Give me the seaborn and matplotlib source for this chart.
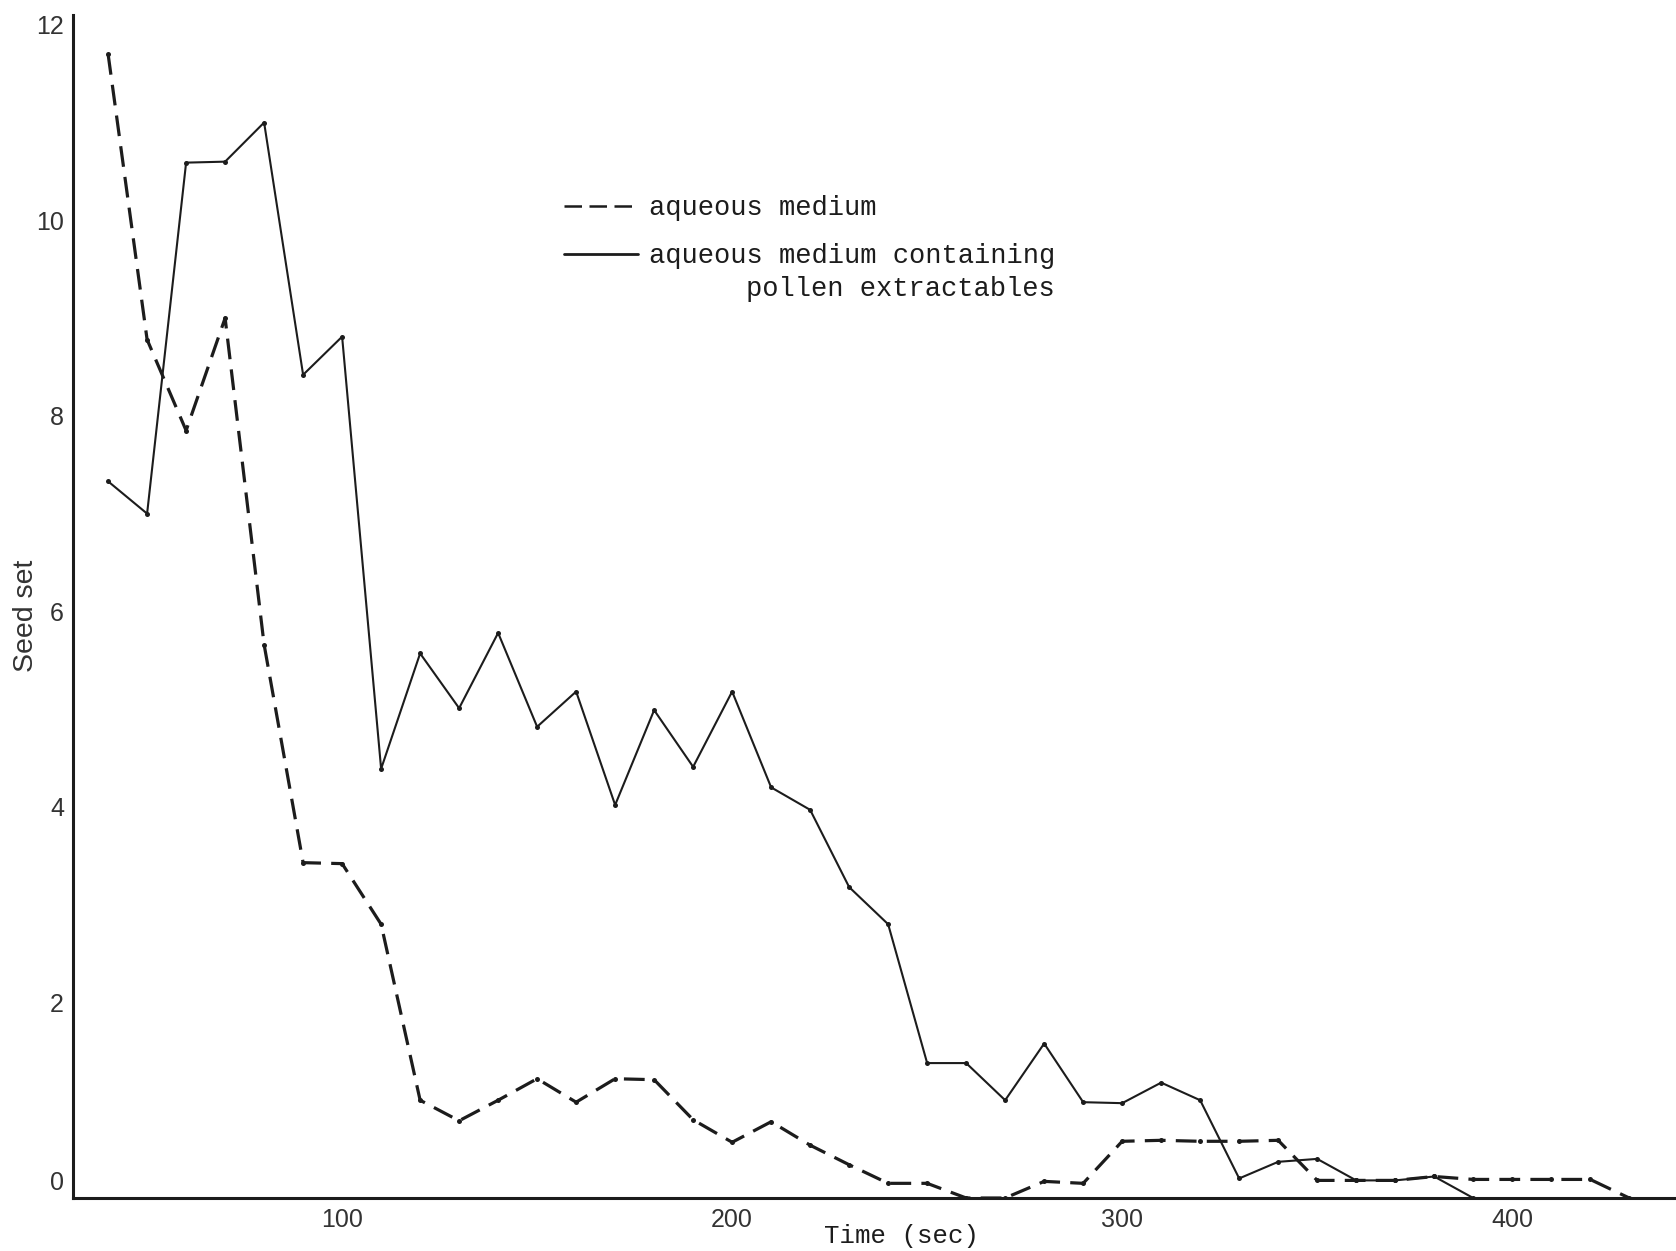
import numpy as np
import pandas as pd
import matplotlib
matplotlib.use("Agg")
import matplotlib.pyplot as plt
import seaborn as sns
from matplotlib.lines import Line2D
from matplotlib.transforms import ScaledTranslation

# ---- data ----
time_aqueous = [40, 50, 60, 70, 80, 90, 100, 110, 120, 130, 140, 150, 160, 170, 180,
                190, 200, 210, 220, 230, 240, 250, 260, 270, 280, 290, 300, 310, 320,
                330, 340, 350, 360, 370, 380, 390, 400, 410, 420, 430]
seed_aqueous = [11.7, 8.78, 7.85, 9.0, 5.66, 3.43, 3.42, 2.8, 1.0, 0.79, 1.0, 1.22, 0.98,
                1.22, 1.21, 0.8, 0.57, 0.78, 0.54, 0.34, 0.15, 0.15, 0.0, 0.0, 0.17, 0.15,
                0.58, 0.59, 0.58, 0.58, 0.59, 0.18, 0.18, 0.18, 0.22, 0.19, 0.19, 0.19,
                0.19, 0.0]

time_extract = [40, 50, 60, 70, 80, 90, 100, 110, 120, 130, 140, 150, 160, 170, 180, 190,
                200, 210, 220, 230, 240, 250, 260, 270, 280, 290, 300, 310, 320, 330, 340,
                350, 360, 370, 380, 390]
seed_extract = [7.33, 7.0, 10.59, 10.6, 11.0, 8.42, 8.81, 4.39, 5.57, 5.01, 5.78, 4.82,
                5.18, 4.02, 4.99, 4.41, 5.18, 4.2, 3.97, 3.18, 2.8, 1.38, 1.38, 1.0, 1.58,
                0.98, 0.97, 1.18, 1.0, 0.2, 0.37, 0.4, 0.18, 0.18, 0.22, 0.0]

label_aqueous = "aqueous medium"
label_extract = "aqueous medium containing"
label_extract_2 = "pollen extractables"

x_ticks = [100, 200, 300, 400]
y_ticks = [0, 2, 4, 6, 8, 10, 12]

df_aq = pd.DataFrame({"time": time_aqueous, "seed": seed_aqueous})
df_ex = pd.DataFrame({"time": time_extract, "seed": seed_extract})

# ---- styling ----
sns.set_style("white")
plt.rcParams["font.family"] = ["Liberation Sans", "DejaVu Sans"]

W, H = 1676, 1251
fig = plt.figure(figsize=(W / 100, H / 100), dpi=100)
left_px, right_px, top_px, bottom_px = 73, 1676, 15, 1198
ax = fig.add_axes([left_px / W, 1 - bottom_px / H,
                   (right_px - left_px) / W, (bottom_px - top_px) / H])

ink = "#1c1c1c"
sns.lineplot(data=df_aq, x="time", y="seed", ax=ax, color=ink, lw=2.3,
             linestyle=(0, (6.5, 3.2)), marker="o", markersize=3.6,
             markeredgewidth=0, markerfacecolor=ink, sort=False)
sns.lineplot(data=df_ex, x="time", y="seed", ax=ax, color=ink, lw=1.5,
             linestyle="-", marker="o", markersize=3.6,
             markeredgewidth=0, markerfacecolor=ink, sort=False)

ax.set_xlim(31, 442)
ax.set_ylim(0, 12.1)
ax.set_xticks(x_ticks)
ax.set_yticks(y_ticks)
ax.set_xticklabels([str(v) for v in x_ticks])
ax.set_yticklabels([str(v) for v in y_ticks])

for s in ["top", "right"]:
    ax.spines[s].set_visible(False)
for s in ["left", "bottom"]:
    ax.spines[s].set_color(ink)
    ax.spines[s].set_linewidth(2.2)

ax.tick_params(axis="both", direction="inout", length=9, width=1.4, color=ink,
               labelsize=18, labelcolor="#333333", pad=2)
ax.tick_params(axis="x", pad=3)

# raise the "0" label a little, as in the reference
t0 = ax.yaxis.get_major_ticks()[0]
t0.label1.set_transform(t0.label1.get_transform()
                        + ScaledTranslation(0, 0.18, fig.dpi_scale_trans))

ax.set_xlabel("Time (sec)", family="Liberation Mono", fontsize=18.5, color=ink)
ax.set_ylabel("Seed set", fontsize=20.5, color="#333333")
ax.xaxis.set_label_coords((901 - left_px) / (right_px - left_px), -0.022)
ax.yaxis.set_label_coords(-0.0215, 0.492)

handles = [Line2D([], [], color=ink, lw=1.8, linestyle=(0, (7, 3))),
           Line2D([], [], color=ink, lw=2.0, linestyle="-")]
leg = ax.legend(handles, [label_aqueous, label_extract], loc="upper left",
                bbox_to_anchor=(0.306, 0.8475), frameon=False, borderpad=0,
                borderaxespad=0, handlelength=2.75, handletextpad=0.4,
                labelspacing=0.8,
                prop={"family": "Liberation Mono", "size": 19.5})
for t in leg.get_texts():
    t.set_color(ink)

# continuation line of the second legend label, right-aligned under it
fig.canvas.draw()
bb = leg.get_texts()[1].get_window_extent(renderer=fig.canvas.get_renderer())
fig.text(bb.x1 / W, (bb.y0 - 7) / H, label_extract_2, ha="right", va="top",
         family="Liberation Mono", fontsize=19.5, color=ink)

fig.savefig("out.png", dpi=100, facecolor="white")
